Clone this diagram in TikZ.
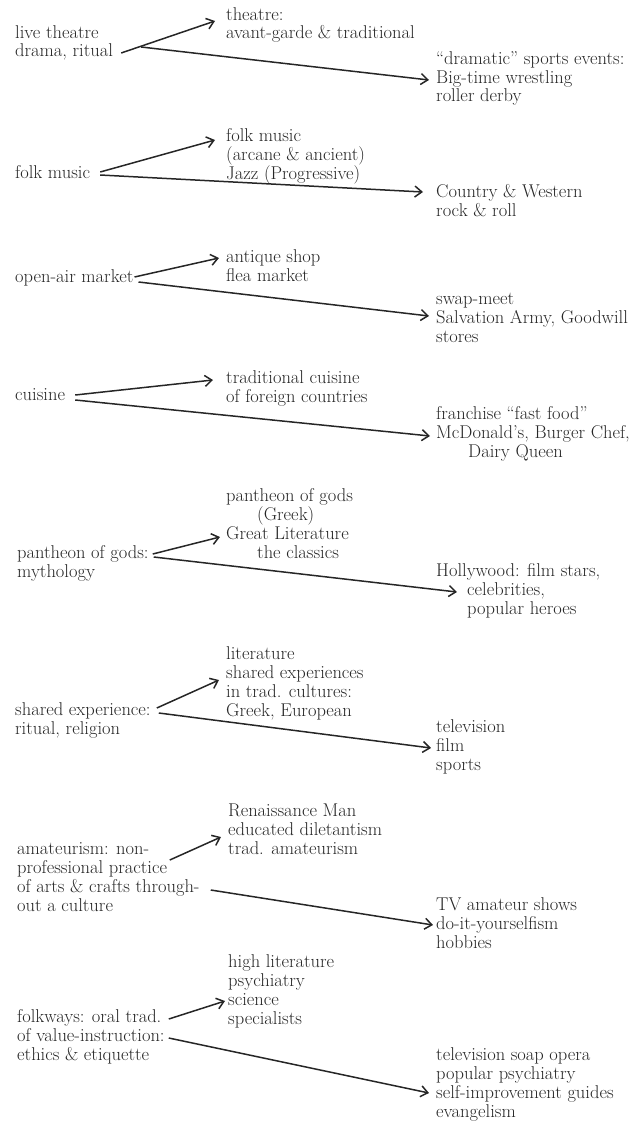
\documentclass[tikz,border=0pt]{standalone}
\usepackage{tikz}
\usetikzlibrary{arrows.meta, positioning}

\begin{document}
\begin{tikzpicture}[
  x=1pt, y=-1pt,
  every node/.style={align=left, anchor=base west, inner sep=0pt,
    font=\fontsize{18.5}{18.7}\selectfont, text=black!85},
  arrow/.style={-{Straight Barb[length=7pt,width=11pt]}, line width=1.5pt, black!85}
]
\useasboundingbox (0,0) rectangle (635,1121);

% live theatre
\node (theatre) at (15,57) {live theatre\\drama, ritual};
\node (theatreA) at (226,39) {theatre:\\avant-garde \& traditional};
\node (theatreB) at (436,102) {``dramatic'' sports events:\\Big-time wrestling\\roller derby};
\draw[arrow] ([shift={(8,-4)}]theatre.base east) -- ([shift={(-11,-18)}]theatreA.base west);
\draw[arrow] ([shift={(28,-10)}]theatre.base east) -- ([shift={(-7,-22)}]theatreB.base west);

% folk music
\node (folk) at (15,178) {folk music};
\node (folkA) at (226,179) {folk music\\(arcane \& ancient)\\Jazz (Progressive)};
\node (folkB) at (436,216) {Country \& Western\\rock \& roll};
\draw[arrow] ([shift={(10,-6)}]folk.base east) -- ([shift={(-11,-39)}]folkA.base west);
\draw[arrow] ([shift={(10,-3)}]folk.base east) -- ([shift={(-13,-24)}]folkB.base west);

% market
\node (market) at (15,282) {open-air market};
\node (marketA) at (226,281) {antique shop\\flea market};
\node (marketB) at (436,342) {swap-meet\\Salvation Army, Goodwill\\stores};
\draw[arrow] ([shift={(1,-5)}]market.base east) -- ([shift={(-7,-23)}]marketA.base west);
\draw[arrow] ([shift={(5,0)}]market.base east) -- ([shift={(-7,-26)}]marketB.base west);

% cuisine
\node (cuisine) at (15,400) {cuisine};
\node (cuisineA) at (226,402) {traditional cuisine\\of foreign countries};
\node (cuisineB) at (436,457) {franchise ``fast food''\\McDonald's, Burger Chef,\\\hspace*{32pt}Dairy Queen};
\draw[arrow] ([shift={(10,-5)}]cuisine.base east) -- ([shift={(-13,-22)}]cuisineA.base west);
\draw[arrow] ([shift={(10,0)}]cuisine.base east) -- ([shift={(-6,-21)}]cuisineB.base west);

% gods
\node (gods) at (17,577) {pantheon of gods:\\mythology};
\node (godsA) at (226,558) {pantheon of gods\\\hspace*{31pt}(Greek)\\Great Literature\\\hspace*{31pt}the classics};
\node (godsB) at (436,614) {Hollywood: film stars,\\\hspace*{31pt}celebrities,\\\hspace*{31pt}popular heroes};
\draw[arrow] ([shift={(4,-23)}]gods.base east) -- ([shift={(-6,-21)}]godsA.base west);
\draw[arrow] ([shift={(5,-20)}]gods.base east) -- ([shift={(21,-22)}]godsB.base west);

% shared experience
\node (shared) at (15,734) {shared experience:\\ritual, religion};
\node (sharedA) at (226,716) {literature\\shared experiences\\in trad. cultures:\\Greek, European};
\node (sharedB) at (436,770) {television\\film\\sports};
\draw[arrow] ([shift={(6,-26)}]shared.base east) -- ([shift={(-7,-36)}]sharedA.base west);
\draw[arrow] ([shift={(8,-21)}]shared.base east) -- ([shift={(-5,-22)}]sharedB.base west);

% amateurism
\node (amateur) at (17,911) {amateurism: non-\\professional practice\\of arts \& crafts through-\\out a culture};
\node (amateurA) at (228,854) {Renaissance Man\\educated diletantism\\trad. amateurism};
\node (amateurB) at (436,948) {TV amateur shows\\do-it-yourselfism\\hobbies};
\draw[arrow] ([shift={(-30,-51)}]amateur.base east) -- ([shift={(-7,-17)}]amateurA.base west);
\draw[arrow] ([shift={(11,-21)}]amateur.base east) -- ([shift={(-3,-23)}]amateurB.base west);

% folkways
\node (folkways) at (17,1060) {folkways: oral trad.\\of value-instruction:\\ethics \& etiquette};
\node (folkwaysA) at (228,1024) {high literature\\psychiatry\\science\\specialists};
\node (folkwaysB) at (436,1117) {television soap opera\\popular psychiatry\\self-improvement guides\\evangelism};
\draw[arrow] ([shift={(4,-41)}]folkways.base east) -- ([shift={(-3,-23)}]folkwaysA.base west);
\draw[arrow] ([shift={(4,-22)}]folkways.base east) -- ([shift={(-7,-24)}]folkwaysB.base west);
\end{tikzpicture}
\end{document}
